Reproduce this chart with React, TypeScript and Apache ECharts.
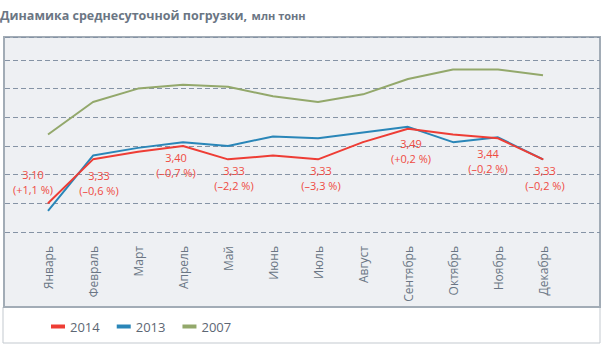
import React, { useEffect, useRef } from "react";
import * as echarts from "echarts";

const months = ["Январь", "Февраль", "Март", "Апрель", "Май", "Июнь", "Июль", "Август", "Сентябрь", "Октябрь", "Ноябрь", "Декабрь"];
const load2014 = [3.10, 3.33, 3.37, 3.40, 3.33, 3.35, 3.33, 3.42, 3.49, 3.46, 3.44, 3.33];
const load2013 = [3.06, 3.35, 3.39, 3.42, 3.40, 3.45, 3.44, 3.47, 3.50, 3.42, 3.445, 3.33];
const load2007 = [3.46, 3.63, 3.70, 3.72, 3.71, 3.66, 3.63, 3.67, 3.75, 3.80, 3.80, 3.77];
const change2014: (string | null)[] = ["+1,1", "–0,6", null, "–0,7", "–2,2", null, "–3,3", null, "+0,2", null, "–0,2", "–0,2"];
const seriesNames = ["2014", "2013", "2007"];

// label placement (style only)
const labelOffsets: number[][] = [[-15, -21], [6, 24], [0, 0], [-7, 19], [6, 19], [0, 0], [3, 19], [0, 0], [3, 22], [0, 0], [-10, 23], [2, 19]];

const FONT = "'Open Sans', 'Noto Sans', sans-serif";
const RED = "#ee3d35";
const BLUE = "#2a86b8";
const GREEN = "#93a86b";
const Y_MIN = 2.95;
const Y_MAX = 3.97;
const Y_STEP = 0.15;

export default function App() {
  const ref = useRef<HTMLDivElement>(null);
  useEffect(() => {
    if (!ref.current) return;
    const chart = echarts.init(ref.current, undefined, { renderer: "svg" });
    const fmt = (v: number) => v.toFixed(2).replace(".", ",");
    const redData = load2014.map((v, i) => {
      const ch = change2014[i];
      if (!ch) return { value: v };
      return {
        value: v,
        label: {
          show: true,
          position: "inside",
          offset: labelOffsets[i],
          formatter: () => `${fmt(v)}\n(${ch} %)`,
        },
      };
    });
    chart.setOption({
      animation: false,
      textStyle: { fontFamily: FONT },
      title: {
        left: 0,
        top: 6,
        padding: 0,
        text: "{b|Динамика среднесуточной погрузки,} {n|млн тонн}",
        textStyle: {
          rich: {
            b: { fontFamily: FONT, fontSize: 12.5, fontWeight: "bold", color: "#6b7684" },
            n: { fontFamily: FONT, fontSize: 11, color: "#6b7684" },
          },
        },
      },
      graphic: [
        {
          type: "rect",
          z: -10,
          silent: true,
          shape: { x: 3, y: 307, width: 597, height: 36 },
          style: { fill: "#ffffff", stroke: "#c3c9cf", lineWidth: 1 },
        },
        {
          type: "rect",
          z: -9,
          silent: true,
          shape: { x: 4, y: 37, width: 596, height: 270 },
          style: { fill: "#eef0f3", stroke: "#a2acb6", lineWidth: 2 },
        },
      ],
      legend: {
        left: 46,
        top: 315,
        icon: "rect",
        itemWidth: 14,
        itemHeight: 4,
        itemGap: 17,
        textStyle: { fontFamily: FONT, fontSize: 13, color: "#5d6774" },
        data: seriesNames,
      },
      grid: [
        { left: 25.5, right: 36.5, top: 37, bottom: 119 },
        { left: 5, right: 2, top: 37, bottom: 119 },
      ],
      xAxis: [
        {
          type: "category",
          gridIndex: 0,
          data: months,
          boundaryGap: true,
          axisLine: { show: false },
          axisTick: { show: false },
          axisLabel: {
            rotate: 90,
            margin: 14,
            interval: 0,
            fontFamily: FONT,
            fontSize: 12,
            color: "#6a7684",
          },
        },
        { type: "value", gridIndex: 1, min: 0, max: 1, show: false },
      ],
      yAxis: [
        {
          type: "value",
          gridIndex: 0,
          min: Y_MIN,
          max: Y_MAX,
          interval: Y_STEP,
          axisLabel: { show: false },
          axisLine: { show: false },
          axisTick: { show: false },
          splitLine: { show: false },
        },
        {
          type: "value",
          gridIndex: 1,
          min: Y_MIN,
          max: Y_MAX,
          interval: Y_STEP,
          axisLabel: { show: false },
          axisLine: { show: false },
          axisTick: { show: false },
          splitLine: { show: true, lineStyle: { color: "#8593a5", type: [5, 3], width: 1 } },
        },
      ],
      series: [
        {
          name: seriesNames[0],
          type: "line",
          xAxisIndex: 0,
          yAxisIndex: 0,
          data: redData,
          symbol: "circle",
          symbolSize: 1,
          itemStyle: { color: RED },
          lineStyle: { color: RED, width: 2 },
          z: 5,
          label: {
            show: false,
            color: "#ef4a42",
            fontFamily: FONT,
            fontSize: 11,
            lineHeight: 15,
            align: "center",
            verticalAlign: "middle",
          },
        },
        {
          name: seriesNames[1],
          type: "line",
          xAxisIndex: 0,
          yAxisIndex: 0,
          data: load2013,
          symbol: "none",
          itemStyle: { color: BLUE },
          lineStyle: { color: BLUE, width: 2 },
          z: 4,
        },
        {
          name: seriesNames[2],
          type: "line",
          xAxisIndex: 0,
          yAxisIndex: 0,
          data: load2007,
          symbol: "none",
          itemStyle: { color: GREEN },
          lineStyle: { color: GREEN, width: 2 },
          z: 3,
        },
      ],
    });
    return () => chart.dispose();
  }, []);
  return <div ref={ref} style={{ width: 602, height: 351, position: "absolute", left: 0, top: 0 }} />;
}
